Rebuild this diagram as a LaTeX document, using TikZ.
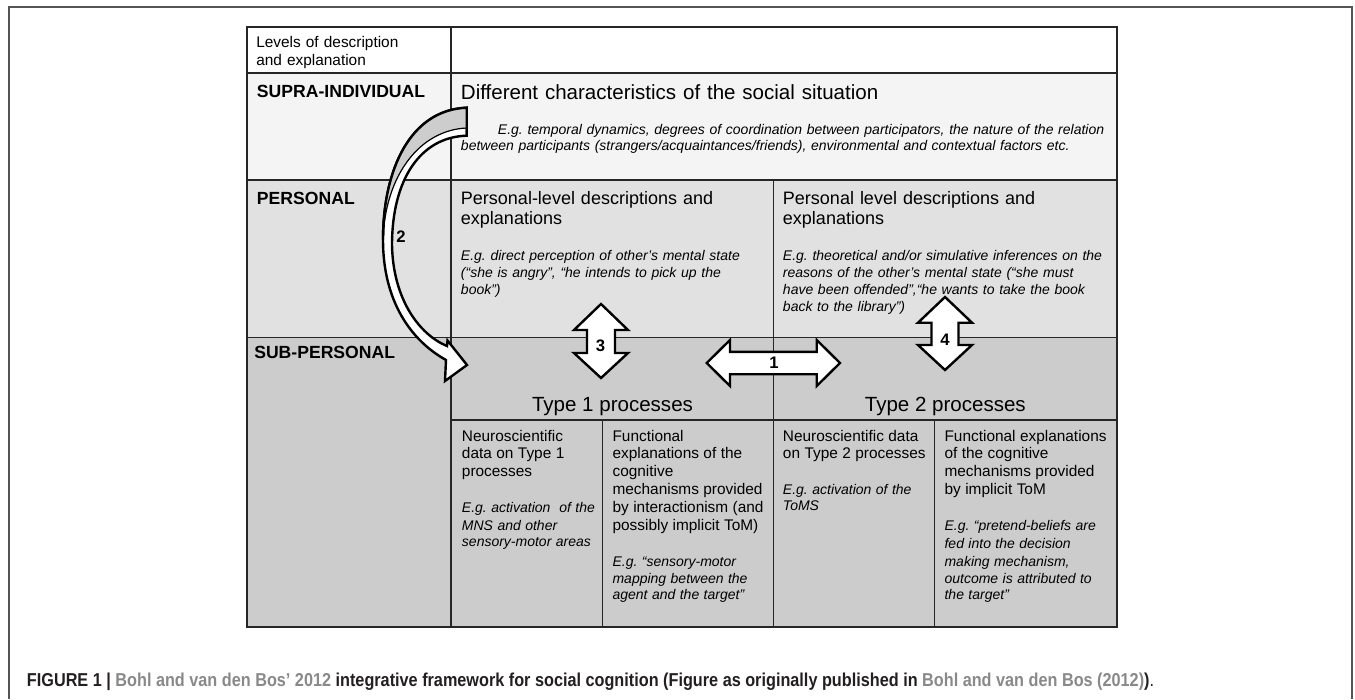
\documentclass[tikz,border=0pt]{standalone}
\usepackage{fontspec}
\setmainfont{Liberation Sans}
\newfontfamily\capfont[FakeStretch=0.87]{Liberation Sans}
\frenchspacing
\definecolor{lc}{RGB}{38,38,38}
\definecolor{supra}{RGB}{244,244,244}
\definecolor{pers}{RGB}{225,225,225}
\definecolor{subp}{RGB}{204,204,204}
\definecolor{backface}{RGB}{205,205,205}
\definecolor{capgray}{RGB}{137,137,137}
\definecolor{capdark}{RGB}{35,31,32}
\definecolor{frm}{RGB}{85,85,85}
\newcommand\szLvl{\fontsize{13.2}{15}\selectfont\bfseries}
\newcommand\szHead{\fontsize{15.4}{18}\selectfont}
\newcommand\szBody{\fontsize{13.5}{15}\selectfont}
\newcommand\szEgS{\fontsize{10.5}{11.8}\selectfont\itshape}
\newcommand\szEg{\fontsize{10.5}{12.6}\selectfont\itshape}
\newcommand\szCell{\fontsize{11.55}{13.4}\selectfont}
\newcommand\szCellEg{\fontsize{10.5}{13.4}\selectfont\itshape}

\begin{document}
\begin{tikzpicture}[x=0.75pt,y=-0.75pt,
    grid/.style={draw=lc,line width=1.2pt},
    lvl/.style={anchor=base west,inner sep=0,font=\szLvl},
    txt/.style={anchor=base west,inner sep=0,text width=#1,align=left},
    blkarr/.style={draw=black,fill=white,line width=1.8pt,line join=miter},
    num/.style={inner sep=0,font=\fontsize{12.5}{14}\selectfont\bfseries},
]
\useasboundingbox (0,0) rectangle (1355,699);
\draw[frm,line width=1pt] (9,699) -- (9,7) -- (1352,7) -- (1352,699);

% rows
\fill[white] (246.7,27) rectangle (1117,73.3);
\fill[supra] (246.7,73.3) rectangle (1117,180);
\fill[pers] (246.7,180) rectangle (1117,337.3);
\fill[subp] (246.7,337.3) rectangle (1117,626.7);
\draw[grid] (246.7,27) rectangle (1117,626.7);
\draw[grid] (246.7,73.3) -- (1117,73.3);
\draw[grid] (246.7,180) -- (1117,180);
\draw[grid] (246.7,337.3) -- (1117,337.3);
\draw[grid] (451,27) -- (451,626.7);
\draw[grid] (773.3,180) -- (773.3,626.7);
\draw[grid] (451,420) -- (1117,420);
\draw[grid] (602.3,420) -- (602.3,626.7);
\draw[grid] (934.3,420) -- (934.3,626.7);

% left column
\node[txt=150pt,font=\szCell] (levels) at (256,47.4) {Levels of description\\and explanation};
\node[lvl] (supraind) at (256.7,98) {SUPRA-INDIVIDUAL};
\node[lvl] (personal) at (256.7,204.6) {PERSONAL};
\node[lvl] (subpers) at (254,358) {SUB-PERSONAL};

% supra-individual
\node[txt=640pt,font=\szHead] (social) at (460.7,99) {Different characteristics of the social situation};
\node[txt=640pt,font=\szEgS] (socialeg) at (460.7,134.6) {\hspace*{27.75pt}E.g. temporal dynamics, degrees of coordination between participators, the nature of the relation\\between participants (strangers/acquaintances/friends), environmental and contextual factors etc.};

% personal
\node[txt=240pt,font=\szBody] (persA) at (460.7,204.2) {Personal-level descriptions and\\explanations};
\node[txt=240pt,font=\szEg] (persAeg) at (460.7,260.7) {E.g. direct perception of other’s mental state\\(“she is angry”, “he intends to pick up the\\book”)};
\node[txt=250pt,font=\szBody] (persB) at (782.7,204.2) {Personal level descriptions and\\explanations};
\node[txt=250pt,font=\szEg] (persBeg) at (782.7,260.7) {E.g. theoretical and/or simulative inferences on the\\reasons of the other’s mental state (“she must\\have been offended”,“he wants to take the book\\back to the library”)};

% sub-personal
\node[anchor=base,inner sep=0,font=\szHead] (type1) at (612.5,411.8) {Type 1 processes};
\node[anchor=base,inner sep=0,font=\szHead] (type2) at (945.3,411.8) {Type 2 processes};
\node[txt=130pt] (neuro1) at (461.7,441) {\szCell Neuroscientific\\data on Type 1\\processes\\[13.4pt]\szCellEg E.g. activation\ \ of the\\MNS and other\\sensory-motor areas};
\node[txt=130pt] (func1) at (612.3,441) {\szCell Functional\\explanations of the\\cognitive\\mechanisms provided\\by interactionism (and\\possibly implicit ToM)\\[13.4pt]\szCellEg E.g. “sensory-motor\\mapping between the\\agent and the target”};
\node[txt=130pt] (neuro2) at (782.7,441) {\szCell Neuroscientific data\\on Type 2 processes\\[13.4pt]\szCellEg E.g. activation of the\\ToMS};
\node[txt=140pt] (func2) at (944.3,441) {\szCell Functional explanations\\of the cognitive\\mechanisms provided\\by implicit ToM\\[13.4pt]\szCellEg E.g. “pretend-beliefs are\\fed into the decision\\making mechanism,\\outcome is attributed to\\the target”};

% arrow 2 (curved)
\filldraw[blkarr] (466.7,107.7) .. controls (410,110) and (383,170) .. (383,240)
  .. controls (383,300) and (410,340) .. (446,360) -- (445,381) -- (467,365)
  -- (447.5,340.5) -- (447,346) .. controls (420,335) and (393,300) .. (392,245)
  .. controls (392,180) and (420,137) .. (466.7,135.7) -- cycle;
\fill[backface] (466.7,107.7) .. controls (410,110) and (383,170) .. (383,240)
  .. controls (385,175) and (420,130) .. (466.7,128) -- cycle;
\draw[line width=0.9pt] (383,240) .. controls (385,175) and (420,130) .. (466.7,128);
\draw[line width=1.8pt] (466.7,136) -- (466.7,107.7) .. controls (410,110) and (383,170) .. (383,240);
\node[num] (n2) at (401,236.5) {2};

% arrows 1, 3, 4
\draw[blkarr] (706.7,363) -- (730,340) -- (730,351.8) -- (816.7,351.8) -- (816.7,340) -- (840,363)
  -- (816.7,386) -- (816.7,374.2) -- (730,374.2) -- (730,386) -- cycle;
\node[num] (n1) at (774,363) {1};
\draw[blkarr] (601,304) -- (628,330) -- (615,330) -- (615,353) -- (628,353) -- (601,378)
  -- (574,353) -- (587,353) -- (587,330) -- (574,330) -- cycle;
\node[num] (n3) at (600.5,346) {3};
\draw[blkarr] (945,297) -- (972,322.7) -- (958.5,322.7) -- (958.5,345) -- (972,345) -- (945,370)
  -- (918,345) -- (931.5,345) -- (931.5,322.7) -- (918,322.7) -- cycle;
\node[num] (n4) at (945,339.5) {4};

% caption
\node[anchor=base west,inner sep=0,font=\capfont\fontsize{14}{16}\selectfont\bfseries,text=capdark] (caption) at (26.7,686.7)
  {FIGURE 1 | \textcolor{capgray}{Bohl and van den Bos’ 2012} integrative framework for social cognition (Figure as originally published in \textcolor{capgray}{Bohl and van den Bos (2012)})\mdseries.};
\end{tikzpicture}
\end{document}
